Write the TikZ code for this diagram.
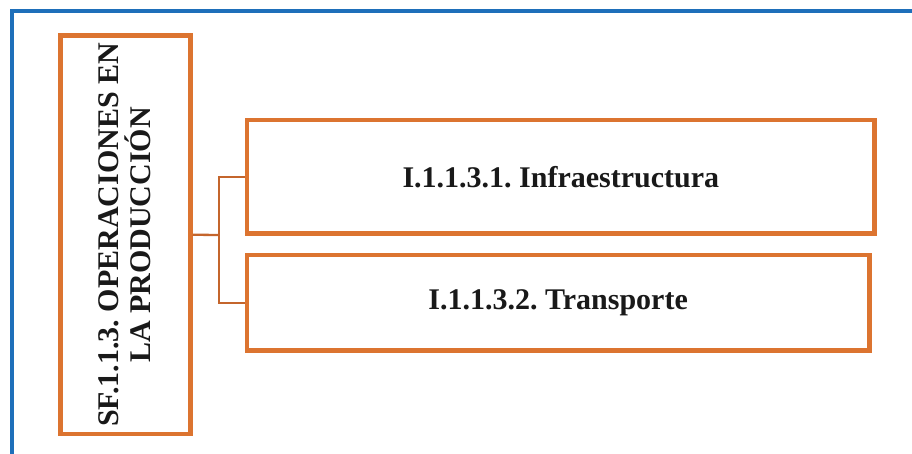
\documentclass[tikz,border=0pt]{standalone}
\usepackage{fontspec}
\setmainfont{Liberation Serif}
\frenchspacing
\definecolor{frameblue}{HTML}{1E6FBA}
\definecolor{boxorange}{HTML}{DC7430}
\definecolor{linkorange}{HTML}{C4652C}
\tikzset{
  obox/.style={draw=boxorange, line width=4.5pt, fill=white, inner sep=0pt},
  boxtext/.style={font=\fontsize{30}{32}\selectfont\bfseries, text=black!90, align=center},
  link/.style={draw=linkorange, line width=2.3pt}
}
\begin{document}
\begin{tikzpicture}[x=1pt, y=-1pt]
  \path[use as bounding box] (0,0) rectangle (912,454);
  \clip (0,0) rectangle (912,454);
  % outer page frame
  \draw[frameblue, line width=4pt] (12,11.5) rectangle (940,490);

  % parent box with vertical title
  \node[obox, minimum width=130pt, minimum height=398.5pt] (sf) at (125.5,234.75) {};
  \node[boxtext, rotate=90] (sftitle) at (124.5,235) {SF.1.1.3. OPERACIONES EN\\LA PRODUCCIÓN};

  % child boxes
  \node[obox, minimum width=627.7pt, minimum height=113.7pt] (i1) at (560.85,176.85) {};
  \node[boxtext] (i1t) at (i1.center) {I.1.1.3.1. Infraestructura};
  \node[obox, minimum width=622.3pt, minimum height=95.3pt] (i2) at (558.15,302.65) {};
  \node[boxtext] (i2t) at (i2.center) {I.1.1.3.2. Transporte};

  % bracket connector
  \coordinate (jx) at (219,235);
  \draw[link] (sf.east) -- (jx);
  \draw[link] (i1.west) -| (jx) |- (i2.west);
\end{tikzpicture}
\end{document}
